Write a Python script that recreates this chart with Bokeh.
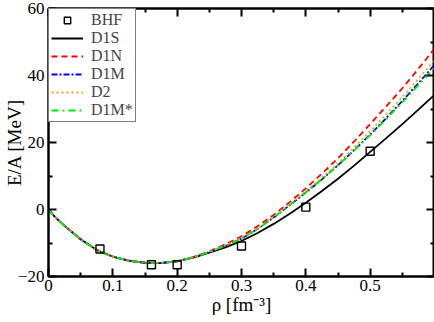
from bokeh.plotting import figure
from bokeh.models import (Legend, LegendItem, LinearAxis, FixedTicker, Range1d,
                          CustomJSTickFormatter)
from bokeh.embed import file_html
from bokeh.resources import INLINE

# ---- data ----
rho = [0.0, 0.01, 0.025, 0.05, 0.075, 0.1, 0.125, 0.15, 0.175, 0.2, 0.225, 0.25,
       0.275, 0.3, 0.325, 0.35, 0.375, 0.4, 0.425, 0.45, 0.475, 0.5, 0.525, 0.55,
       0.575, 0.6]

e_d1s = [0.0, -2.2, -4.9, -8.9, -12.1, -14.1, -15.3, -15.9, -16.0, -15.5, -14.4, -12.9,
         -11.3, -9.4, -7.0, -4.3, -1.3, 2.0, 5.5, 9.2, 13.1, 17.2, 21.3, 25.5,
         29.8, 34.2]
e_d1n = [0.0, -2.2, -4.9, -8.9, -12.1, -14.1, -15.3, -15.9, -15.95, -15.4, -14.2, -12.5,
         -10.4, -8.0, -5.0, -1.6, 2.2, 6.3, 10.7, 15.3, 20.3, 25.5, 30.8, 36.2,
         42.0, 48.0]
e_d1m = [0.0, -2.2, -4.9, -8.9, -12.1, -14.1, -15.3, -15.9, -15.95, -15.45, -14.3, -12.7,
         -10.8, -8.7, -5.8, -2.4, 1.3, 5.1, 9.0, 13.2, 17.7, 22.4, 27.3, 32.4,
         37.7, 43.2]
e_d2 = [0.0, -2.2, -4.9, -8.9, -12.1, -14.1, -15.3, -15.9, -15.95, -15.45, -14.3, -12.7,
        -10.7, -8.6, -5.7, -2.2, 1.6, 5.5, 9.5, 13.8, 18.5, 23.4, 28.4, 33.6,
        39.0, 44.6]
e_d1mstar = [0.0, -2.2, -4.9, -8.9, -12.1, -14.1, -15.3, -15.9, -15.95, -15.45, -14.3, -12.7,
             -10.8, -8.7, -5.8, -2.4, 1.3, 5.1, 9.0, 13.2, 17.6, 22.2, 27.0, 32.0,
             37.1, 42.4]

bhf_rho = [0.08, 0.16, 0.2, 0.3, 0.4, 0.5]
bhf_e = [-11.8, -16.5, -16.5, -10.9, 0.7, 17.4]

x_ticks = [0.0, 0.1, 0.2, 0.3, 0.4, 0.5]
x_minor = [0.05, 0.15, 0.25, 0.35, 0.45, 0.55]
y_ticks = [-20, 0, 20, 40, 60]
y_minor = [-10, 10, 30, 50]

FONT = "Times New Roman"

p = figure(width=434, height=317,
           x_range=Range1d(0, 0.6), y_range=Range1d(-20, 60),
           output_backend="svg", toolbar_location=None,
           min_border_left=39, min_border_right=0, min_border_top=8,
           min_border_bottom=40)

p.grid.visible = False
p.outline_line_color = "black"
p.outline_line_width = 2
p.background_fill_color = "white"
p.border_fill_color = "white"


def style_axis(ax, labels=True):
    ax.axis_line_color = "black"
    ax.axis_line_width = 2
    ax.major_tick_in = 8
    ax.major_tick_out = 0
    ax.minor_tick_in = 4
    ax.minor_tick_out = 0
    ax.major_tick_line_width = 2
    ax.minor_tick_line_width = 2
    ax.major_tick_line_color = "black"
    ax.minor_tick_line_color = "black"
    if labels:
        ax.major_label_text_font = FONT
        ax.major_label_text_font_size = "17px"
        ax.major_label_text_color = "black"
        ax.axis_label_text_font = FONT
        ax.axis_label_text_font_size = "19px"
        ax.axis_label_text_font_style = "normal"
        ax.axis_label_text_color = "black"
    else:
        ax.formatter = CustomJSTickFormatter(code="return ''")
        ax.major_label_text_font_size = "1px"
        ax.major_label_standoff = 0


xa = p.xaxis[0]
xa.ticker = FixedTicker(ticks=x_ticks, minor_ticks=x_minor)
style_axis(xa)
xa.axis_label = "ρ [fm⁻³]"
xa.major_label_standoff = 3
xa.axis_label_standoff = 0

ya = p.yaxis[0]
ya.ticker = FixedTicker(ticks=y_ticks, minor_ticks=y_minor)
style_axis(ya)
ya.axis_label = "E/A [MeV]"
ya.major_label_standoff = 4
ya.axis_label_standoff = -10

top = LinearAxis(ticker=FixedTicker(ticks=x_ticks, minor_ticks=x_minor))
style_axis(top, labels=False)
p.add_layout(top, "above")
right = LinearAxis(ticker=FixedTicker(ticks=y_ticks, minor_ticks=y_minor))
style_axis(right, labels=False)
p.add_layout(right, "right")

LW = 1.8
r_d1s = p.line(rho, e_d1s, line_color="black", line_width=LW)
r_d1n = p.line(rho, e_d1n, line_color="red", line_width=LW, line_dash="6 4")
r_d1m = p.line(rho, e_d1m, line_color="blue", line_width=LW, line_dash="6 2 2 2")
r_d2 = p.line(rho, e_d2, line_color="orange", line_width=LW, line_dash="2 3")
r_d1mstar = p.line(rho, e_d1mstar, line_color="#00f000", line_width=LW, line_dash="7 4 2 4")
r_bhf = p.scatter(bhf_rho, bhf_e, marker="square", size=8, line_color="black",
                  line_width=1.4, fill_color=None)

legend = Legend(items=[
    LegendItem(label="BHF", renderers=[r_bhf]),
    LegendItem(label="D1S", renderers=[r_d1s]),
    LegendItem(label="D1N", renderers=[r_d1n]),
    LegendItem(label="D1M", renderers=[r_d1m]),
    LegendItem(label="D2", renderers=[r_d2]),
    LegendItem(label="D1M*", renderers=[r_d1mstar]),
], location="top_left")
legend.margin = 0
legend.padding = 2
legend.spacing = 0
legend.border_line_color = "black"
legend.border_line_width = 1.5
legend.background_fill_alpha = 1
legend.label_text_font = FONT
legend.label_text_font_size = "16px"
legend.label_height = 16
legend.glyph_height = 16
legend.glyph_width = 32
legend.label_standoff = 8
p.add_layout(legend)

open("out.html", "w").write(file_html(p, INLINE))
